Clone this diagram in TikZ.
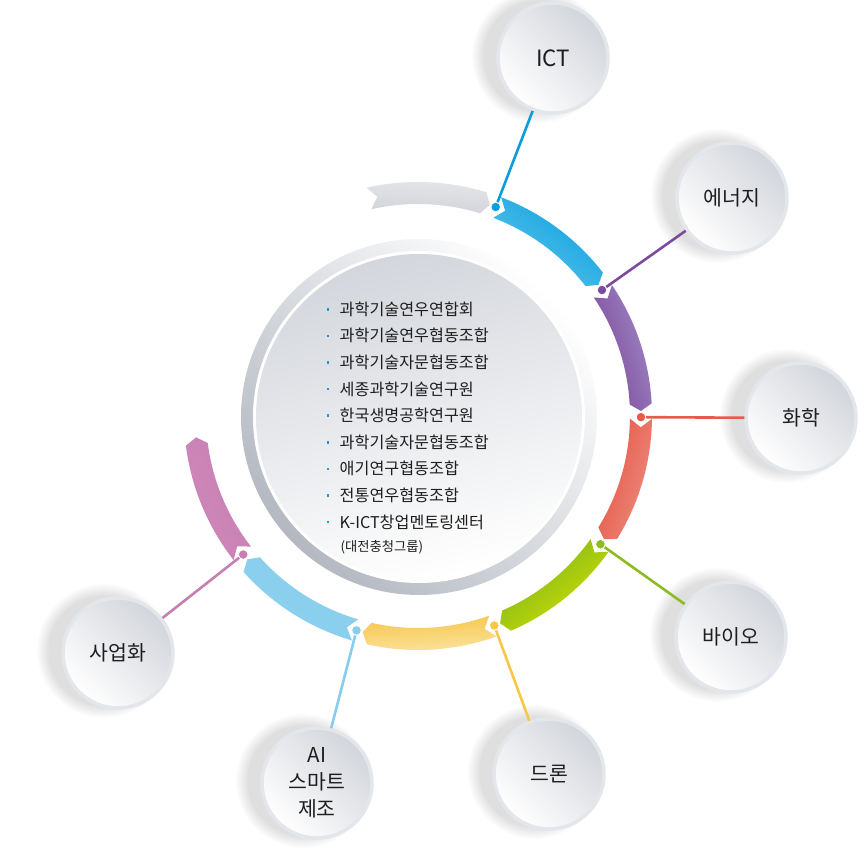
\documentclass[tikz,border=0pt]{standalone}
\usepackage{fontspec}
\newfontfamily\kr{Noto Sans CJK KR}
\definecolor{cICT}{HTML}{0A9DDB}
\definecolor{cEn}{HTML}{7D4B9B}
\definecolor{cCh}{HTML}{E85A4A}
\definecolor{cBio}{HTML}{8CBB22}
\definecolor{cDr}{HTML}{F6C845}
\definecolor{cAI}{HTML}{87CDEE}
\definecolor{cBu}{HTML}{C77FB2}
\definecolor{rim}{HTML}{E3E6EA}
\definecolor{txt}{HTML}{1E1E1E}
\definecolor{bulc}{HTML}{1B9AD6}
\definecolor{ringdark}{HTML}{B3B8C1}
\definecolor{innertop}{HTML}{D3D6DC}
\definecolor{bubtop}{HTML}{D2D5DB}
\definecolor{gA}{HTML}{E6E7EA}\definecolor{gB}{HTML}{D0D3D8}
\definecolor{bA}{HTML}{0B9FDD}\definecolor{bB}{HTML}{5EC6EE}
\definecolor{pA}{HTML}{A08AC4}\definecolor{pB}{HTML}{7A4498}
\definecolor{rA}{HTML}{EE8D82}\definecolor{rB}{HTML}{E4533F}
\definecolor{nA}{HTML}{D4E100}\definecolor{nB}{HTML}{76B21F}
\definecolor{yA}{HTML}{FBE4A3}\definecolor{yB}{HTML}{F6C64A}
\definecolor{lA}{HTML}{8ED1EF}\definecolor{lB}{HTML}{87CDEE}
\definecolor{kA}{HTML}{CD88B8}\definecolor{kB}{HTML}{C97FB3}
\newcommand\seg[4]{%
  \pgfmathsetmacro\sa{(#1+#2)/2-90}%
  \pgfmathsetmacro\hb{#2+1.8}%
  \pgfmathsetmacro\nt{#1-2.2}%
  \shade[left color=#3,right color=#4,shading angle=\sa]
    (#1:234) arc[start angle=#1, end angle=\hb, radius=234] -- (#2:223) -- (\hb:212)
    arc[start angle=\hb, end angle=#1, radius=212] -- (\nt:223) -- cycle;}
\newcommand\shad[2]{\foreach \k in {1,...,8}{\fill[black,opacity=0.014] (#1-14,#2+2) circle[radius={54+1.6*\k}];}}
\begin{document}
\begin{tikzpicture}[x=1pt,y=1pt,
  bub/.style={circle, minimum size=110, inner sep=0, draw=rim, line width=3.5,
    top color=bubtop, bottom color=white, shading angle=-45,
    font=\kr\fontsize{20.5}{27}\selectfont, text=txt, align=center},
  dotn/.style={circle, minimum size=9.6, inner sep=0, draw=white, line width=0.8},
  con/.style={line width=2.6},
  listtxt/.style={anchor=base west, inner sep=0, font=\kr\fontsize{16.2}{20}\selectfont, text=txt},
  bul/.style={rectangle, fill=bulc, minimum size=2.6, inner sep=0}]
\useasboundingbox (-418,-446) rectangle (449,416);
\fill[white] (-418,-446) rectangle (449,416);

% center disk
\shade[top color=white, bottom color=ringdark, shading angle=-45] (1,-1) circle[radius=178];
\fill[white] (1,-1) circle[radius=166];
\shade[top color=innertop, bottom color=white, shading angle=15] (1,-1) circle[radius=163];

% arrow ring
\seg{102.7}{71.2}{gA}{gB}
\seg{69.2}{36.0}{bA}{bB}
\seg{34.0}{1.3}{pA}{pB}
\seg{-0.7}{-33.5}{rA}{rB}
\seg{-35.5}{-68.4}{nA}{nB}
\seg{-70.4}{-104.4}{yA}{yB}
\seg{-106.4}{-140.0}{lA}{lB}
\seg{-142.0}{-174.5}{kA}{kB}

% shadows of outer circles
\shad{135}{358}
\shad{314}{218}
\shad{383}{-2}
\shad{313}{-221}
\shad{131}{-358}
\shad{-101}{-367}
\shad{-300}{-237}

% outer circles
\node[bub] (ICT) at (135,358) {\fontsize{22.4}{27}\selectfont ICT};
\node[bub] (En) at (314,218) {에너지};
\node[bub] (Ch) at (383,-2) {화학};
\node[bub] (Bio) at (313,-221) {바이오};
\node[bub] (Dr) at (131,-358) {드론};
\node[bub] (AI) at (-101,-367) {AI\\스마트\\제조};
\node[bub] (Bu) at (-300,-237) {사업화};

% dots
\node[dotn, fill=cICT] (dICT) at (69.6:223) {};
\node[dotn, fill=cEn] (dEn) at (34.4:223) {};
\node[dotn, fill=cCh] (dCh) at (-0.3:223) {};
\node[dotn, fill=cBio] (dBio) at (-35.1:223) {};
\node[dotn, fill=cDr] (dDr) at (-70:223) {};
\node[dotn, fill=cAI] (dAI) at (-106:223) {};
\node[dotn, fill=cBu] (dBu) at (-141.6:223) {};

% connectors
\draw[con, cICT] (dICT) -- (ICT);
\draw[con, cEn] (dEn) -- (En);
\draw[con, cCh] (dCh) -- (Ch);
\draw[con, cBio] (dBio) -- (Bio);
\draw[con, cDr] (dDr) -- (Dr);
\draw[con, cAI] (dAI) -- (AI);
\draw[con, cBu] (dBu) -- (Bu);

% list
\foreach \t [count=\i] in {과학기술연우연합회, 과학기술연우협동조합, 과학기술자문협동조합, 세종과학기술연구원, 한국생명공학연구원, 과학기술자문협동조합, 애기연구협동조합, 전통연우협동조합, K-ICT창업멘토링센터}{
  \node[listtxt] (l\i) at (-78.5, {100.8-26.6*(\i-1)}) {\t};
  \node[bul] (b\i) at (-90, {106.7-26.6*(\i-1)}) {};
}
\node[listtxt, font=\kr\fontsize{13.3}{16}\selectfont] (l10) at (-77.5,-135.6) {(대전충청그룹)};
\end{tikzpicture}
\end{document}
